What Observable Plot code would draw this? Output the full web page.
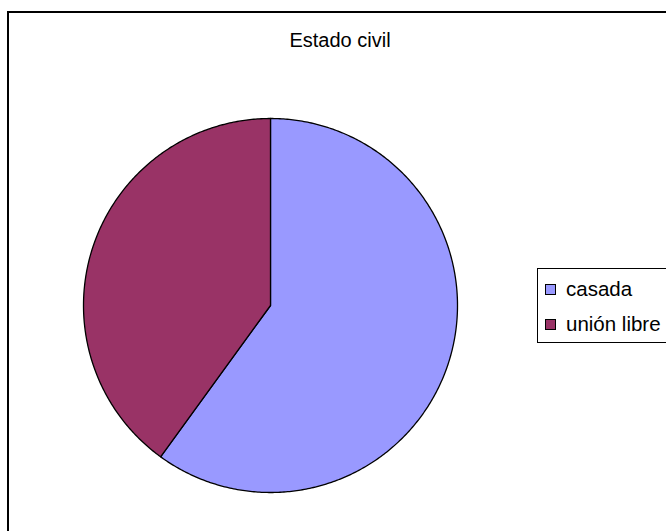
<!DOCTYPE html>
<html>
<head>
<meta charset="utf-8">
<script src="https://cdn.jsdelivr.net/npm/d3@7"></script>
<script src="https://cdn.jsdelivr.net/npm/@observablehq/plot@0.6"></script>
<style>
  html, body { margin: 0; padding: 0; background: #fff; overflow: hidden; }
  #wrap { position: relative; width: 666px; height: 531px; font-family: "Liberation Sans", Arial, sans-serif; }
  #frame { position: absolute; left: 7px; top: 11px; width: 700px; height: 600px; border: 2px solid #000; box-sizing: border-box; }
  #title { position: absolute; left: 240px; width: 200px; top: 28px; text-align: center; font-size: 20px; color: #000; line-height: 24px; }
  #legend { position: absolute; left: 537px; top: 268px; width: 160px; height: 75px; border: 1px solid #000; box-sizing: border-box; background: #fff; }
  .item { position: absolute; left: 7px; font-size: 20.5px; line-height: 24px; white-space: nowrap; }
  .sw { display: inline-block; width: 9px; height: 9px; border: 1px solid #000; margin-right: 10px; vertical-align: 1px; }
  #chart { position: absolute; left: 0; top: 0; }
</style>
</head>
<body>
<div id="wrap">
  <div id="frame"></div>
  <div id="chart"></div>
  <div id="title"></div>
  <div id="legend"></div>
</div>
<script>
const title = "Estado civil";
const categories = ["casada", "unión libre"];
const values = [60, 40];
const colors = ["#9999FF", "#993366"];

// Build slice outlines from the pie layout
const pie = d3.pie().sort(null).value(d => d.value).startAngle(0).endAngle(2 * Math.PI);
const arcs = pie(categories.map((c, i) => ({category: c, value: values[i]})));
const points = [];
for (const a of arcs) {
  const cat = a.data.category;
  points.push({category: cat, x: 0, y: 0});
  const n = Math.max(2, Math.ceil((a.endAngle - a.startAngle) / 0.01));
  for (let k = 0; k <= n; k++) {
    const t = a.startAngle + (a.endAngle - a.startAngle) * k / n;
    points.push({category: cat, x: Math.sin(t), y: Math.cos(t)});
  }
  points.push({category: cat, x: 0, y: 0});
}

const plot = Plot.plot({
  width: 666,
  height: 531,
  margin: 0,
  x: {domain: [-1, 1], range: [83, 457], axis: null},
  y: {domain: [-1, 1], range: [492, 118], axis: null},
  color: {domain: categories, range: colors},
  marks: [
    Plot.line(points, {x: "x", y: "y", z: "category", fill: "category", stroke: "#000", strokeWidth: 1.3, curve: "linear"})
  ],
  style: {background: "transparent", overflow: "visible"}
});
document.getElementById("chart").appendChild(plot);

document.getElementById("title").textContent = title;
const legend = document.getElementById("legend");
categories.forEach((c, i) => {
  const item = document.createElement("div");
  item.className = "item";
  item.style.top = (8 + i * 35) + "px";
  const sw = document.createElement("span");
  sw.className = "sw";
  sw.style.background = colors[i];
  item.appendChild(sw);
  item.appendChild(document.createTextNode(c));
  legend.appendChild(item);
});
</script>
</body>
</html>
